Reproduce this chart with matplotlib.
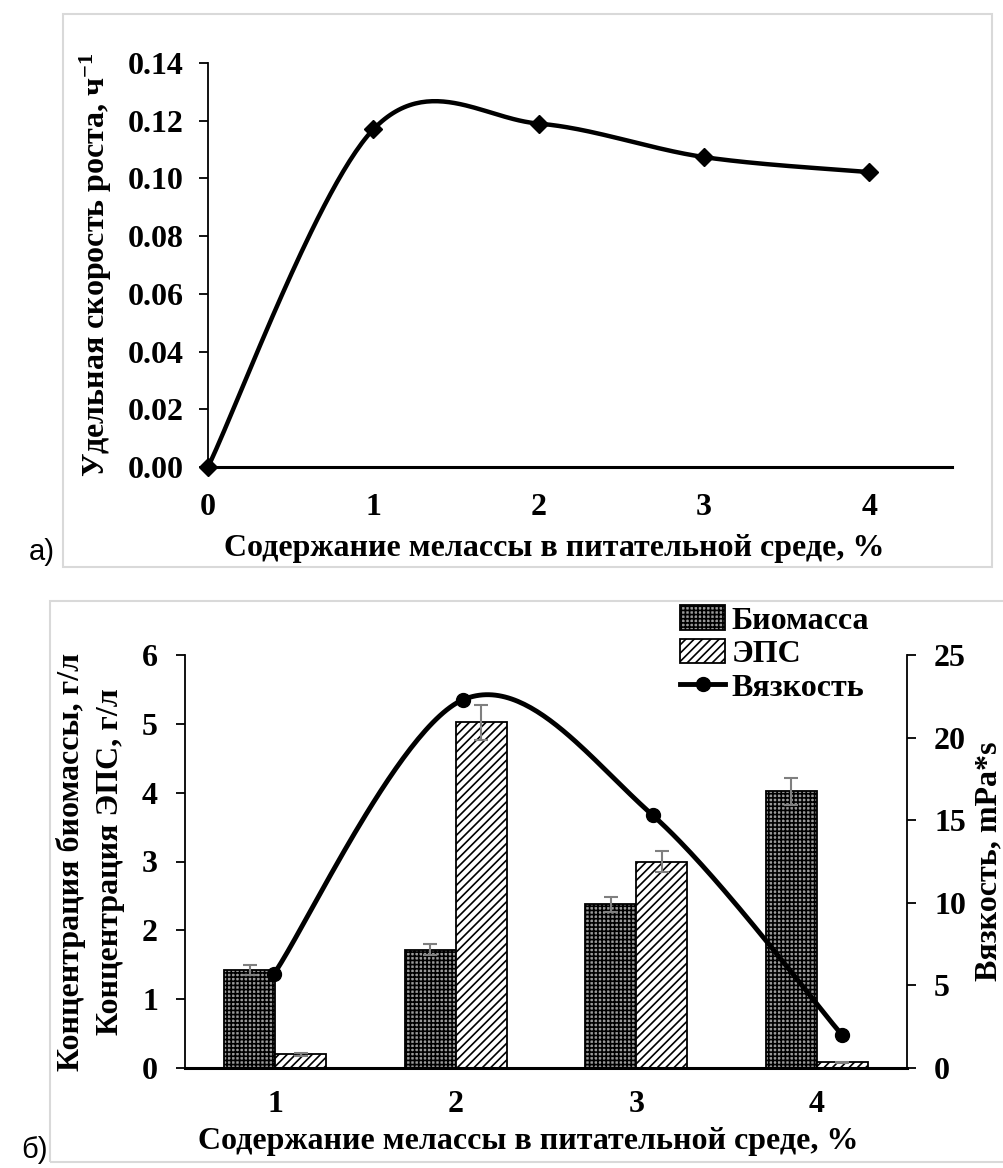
"""
Рост культуры и образование ЭПС в зависимости от содержания мелассы.

а) удельная скорость роста;
б) концентрация биомассы, ЭПС и вязкость культуральной жидкости.
"""

import numpy as np
import matplotlib.pyplot as plt
from matplotlib.patches import Rectangle
from matplotlib.lines import Line2D


# ---------------------------------------------------------------------------
# Данные
# ---------------------------------------------------------------------------

# а) удельная скорость роста
molasses_a = [0, 1, 2, 3, 4]
growth_rate = [0.0, 0.117, 0.119, 0.1074, 0.1022]

# б) биомасса, ЭПС, вязкость
molasses_b = [1, 2, 3, 4]
biomass = [1.42, 1.72, 2.38, 4.02]
biomass_err = [0.07, 0.08, 0.11, 0.20]
eps = [0.20, 5.02, 3.00, 0.08]
eps_err = [0.02, 0.25, 0.15, 0.01]
viscosity = [5.7, 22.3, 15.3, 2.0]

xlabel_text = "Содержание мелассы в питательной среде, %"

W, H = 1004, 1168
FS = 23

plt.rcParams["font.family"] = ["Liberation Serif", "DejaVu Serif"]
plt.rcParams["mathtext.fontset"] = "custom"
plt.rcParams["mathtext.rm"] = "Liberation Serif:bold"
plt.rcParams["mathtext.bf"] = "Liberation Serif:bold"
plt.rcParams["mathtext.it"] = "Liberation Serif:bold"
plt.rcParams["hatch.linewidth"] = 1.2


def _px(x0, y0, x1, y1):
    """Прямоугольник в пикселях (сверху вниз) -> доли фигуры."""
    return [x0 / W, 1 - y1 / H, (x1 - x0) / W, (y1 - y0) / H]


def _smooth(x, y, n=60):
    """Сглаживание как в Excel: кубические кривые Безье через точки."""
    pts = np.column_stack([x, y]).astype(float)
    P = np.vstack([pts[0], pts, pts[-1]])
    t = np.linspace(0, 1, n)[:, None]
    segs = []
    for i in range(1, len(P) - 2):
        p0, p1, p2, p3 = P[i - 1], P[i], P[i + 1], P[i + 2]
        c1 = p1 + (p2 - p0) / 6
        c2 = p2 - (p3 - p1) / 6
        segs.append((1 - t) ** 3 * p1 + 3 * (1 - t) ** 2 * t * c1
                    + 3 * (1 - t) * t ** 2 * c2 + t ** 3 * p2)
    s = np.vstack(segs)
    return s[:, 0], s[:, 1]


def _frame(fig, x0, y0, x1, y1):
    fig.patches.append(Rectangle((x0 / W, 1 - y1 / H), (x1 - x0) / W, (y1 - y0) / H,
                                 transform=fig.transFigure, fill=False,
                                 edgecolor="#d9d9d9", linewidth=1.5))


def _bold_ticks(a):
    for lab in a.get_xticklabels() + a.get_yticklabels():
        lab.set_fontsize(FS)
        lab.set_fontweight("bold")


fig = plt.figure(figsize=(W / 100, H / 100), dpi=100)
bold = dict(fontsize=FS, fontweight="bold")

# ---------------------------------------------------------------------------
# а) удельная скорость роста
# ---------------------------------------------------------------------------

_frame(fig, 63, 14, 992, 567)
ax = fig.add_axes(_px(208, 63, 952, 467))
sx, sy = _smooth(molasses_a, growth_rate)
ax.plot(sx, sy, color="black", lw=3.2, solid_capstyle="round")
ax.plot(molasses_a, growth_rate, ls="none", marker="D", ms=9, color="black",
        clip_on=False, zorder=5)
ax.set_xlim(0, 4.5)
ax.set_ylim(0, 0.14)
ax.set_xticks(molasses_a)
ax.set_yticks(np.arange(0, 0.141, 0.02))
ax.yaxis.set_major_formatter(plt.FuncFormatter(lambda v, _: f"{v:.2f}"))
for s in ("top", "right"):
    ax.spines[s].set_visible(False)
ax.spines["bottom"].set_linewidth(2.2)
ax.spines["left"].set_linewidth(1.3)
ax.tick_params(axis="x", length=0, pad=19)
ax.tick_params(axis="y", length=6.5, width=1.3, direction="out", pad=11)
_bold_ticks(ax)
ax.set_xlabel(xlabel_text, **bold)
ax.xaxis.set_label_coords(0.465, -0.165)
ax.set_ylabel("Удельная скорость роста, ч$^{-1}$", labelpad=10, **bold)
fig.text(42 / W, 1 - 552 / H, "а)", fontsize=21, family="Liberation Sans",
         ha="center", va="center")

# ---------------------------------------------------------------------------
# б) биомасса, ЭПС, вязкость
# ---------------------------------------------------------------------------

_frame(fig, 50, 601, 1010, 1162)
axb = fig.add_axes(_px(185, 655, 907, 1068))
pos = np.arange(len(molasses_b))
bw = 0.283
ekw = dict(ecolor="#7f7f7f", elinewidth=1.5, capsize=5, capthick=1.5)
axb.bar(pos - bw / 2, biomass, bw, yerr=biomass_err, facecolor="#9a9a9a",
        edgecolor="black", hatch="++++", linewidth=1.3, error_kw=ekw,
        label="Биомасса")
axb.bar(pos + bw / 2, eps, bw, yerr=eps_err, facecolor="white",
        edgecolor="black", hatch="////", linewidth=1.3, error_kw=ekw,
        label="ЭПС")
axb.set_xlim(-0.5, len(molasses_b) - 0.5)
axb.set_ylim(0, 6)
axb.set_xticks(pos, [str(m) for m in molasses_b])
axb.set_yticks(range(0, 7))
for s in ("top", "right"):
    axb.spines[s].set_visible(False)
axb.spines["bottom"].set_linewidth(2.2)
axb.spines["left"].set_linewidth(1.3)
axb.tick_params(axis="x", length=0, pad=16)
axb.tick_params(axis="y", length=6.5, width=1.3, direction="out", pad=13)
_bold_ticks(axb)
axb.set_xlabel(xlabel_text, **bold)
axb.xaxis.set_label_coords(0.476, -0.143)
axb.set_ylabel("Концентрация биомассы, г/л\nКонцентрация ЭПС, г/л",
               labelpad=12, linespacing=1.45, **bold)

# вязкость — вторичные оси со своей (скрытой) шкалой по x
axv = fig.add_axes(axb.get_position())
axv.patch.set_visible(False)
for s in ("top", "left", "bottom"):
    axv.spines[s].set_visible(False)
vx, vy = _smooth(molasses_b, viscosity)
axv.plot(vx, vy, color="black", lw=3.5)
axv.plot(molasses_b, viscosity, ls="none", marker="o", ms=10, color="black")
axv.set_xlim(0.53, 4.343)
axv.set_ylim(0, 25)
axv.xaxis.set_visible(False)
axv.yaxis.tick_right()
axv.yaxis.set_label_position("right")
axv.spines["right"].set_linewidth(1.3)
axv.set_yticks(range(0, 26, 5))
axv.tick_params(axis="y", length=6.5, width=1.3, direction="out", pad=13)
_bold_ticks(axv)
axv.set_ylabel("Вязкость, mPa*s", labelpad=6, **bold)

handles, labels = axb.get_legend_handles_labels()
handles.append(Line2D([], [], color="black", lw=3.5, marker="o", ms=10))
labels.append("Вязкость")
fig.legend(handles, labels, loc="upper left", bbox_to_anchor=(658 / W, 1 - 583 / H),
           frameon=False, prop=dict(size=FS, weight="bold"), handlelength=1.4,
           handleheight=0.8, handletextpad=0.2, labelspacing=0.1, borderpad=0.2)
fig.text(35 / W, 1 - 1150 / H, "б)", fontsize=21, family="Liberation Sans",
         ha="center", va="center")

fig.savefig("out.png", dpi=100)
